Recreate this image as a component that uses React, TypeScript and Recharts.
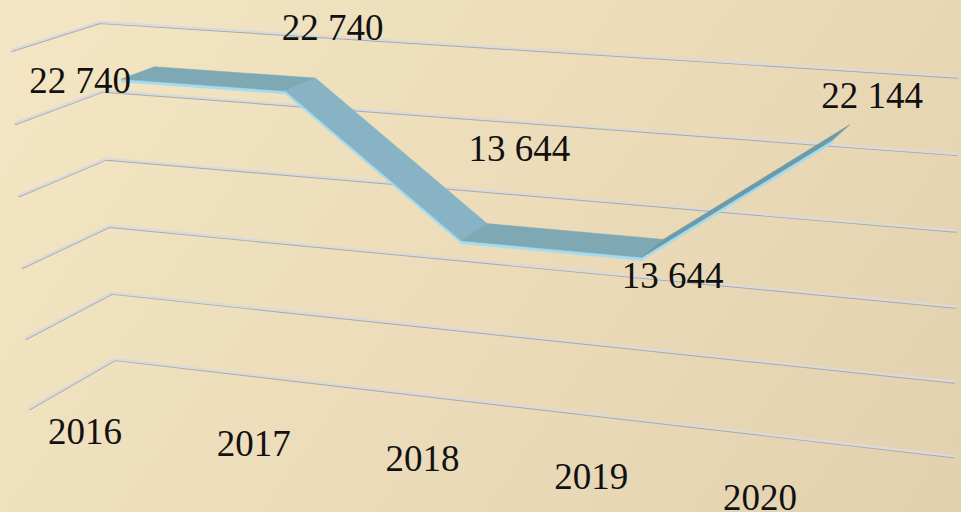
import React from 'react';
import { LineChart, Line, XAxis, YAxis, CartesianGrid, LabelList } from 'recharts';

// ---------- data ----------
const years = ['2016', '2017', '2018', '2019', '2020'];
const amounts = [22740, 22740, 13644, 13644, 22144];
const amountTicks = [0, 5000, 10000, 15000, 20000, 25000];
const amountMax = 25000;

const data = years.map((year, i) => ({ year, amount: amounts[i] }));

// ---------- layout ----------
const W = 961;
const H = 512;
const XAXIS_H = 2;
const PLOT = { left: 0, top: 0, width: W, height: H - XAXIS_H };
const CAT_PAD = PLOT.width / (2 * years.length); // categories sit in band centres

const FONT = "'Liberation Serif', 'Times New Roman', Times, serif";
const FONT_SIZE = 37;

// perspective camera for the 3D box (X: categories 0..1, Y: value 0..1, Z: depth 0 back .. 1 front)
function project(X: number, Y: number, Z: number): [number, number] {
  const w = 1 - 0.1152 * X - 0.02187 * Y - 0.0603 * Z;
  const u = (115 + 728.4 * X - 17.19 * Y - 86.8 * Z) / w;
  const v = (359 + 44.58 * X - 337.5 * Y + 24.36 * Z) / w;
  return [u, v];
}

const toNorm = (x: number, y: number): [number, number] => [
  (x - PLOT.left) / PLOT.width,
  (PLOT.top + PLOT.height - y) / PLOT.height,
];

const pts = (list: [number, number][]) => list.map((p) => `${p[0].toFixed(2)},${p[1].toFixed(2)}`).join(' ');

const RIBBON_BACK = 0.29;
const RIBBON_FRONT = 0.69;
const RIBBON_MID = (RIBBON_BACK + RIBBON_FRONT) / 2;
const RIBBON_THICK = 0.008;

const COLOR_FLAT = '#7da8b4';
const COLOR_DOWN = '#87b3c5';
const COLOR_UP = '#6e9aa8';
const COLOR_EDGE = '#a3dcee';

// value label offsets relative to the projected point (screen px)
const LABEL_SHIFT: [number, number][] = [
  [-58, 8],
  [32, -57],
  [45, -84],
  [20, 27],
  [31, -37],
];

// category label placement along the front
const YEAR_LABEL = { x0: 85, dx: 168.75, y0: 431.7, a: 10.3, b: 1.51 };

const fmt = (v: number) => String(v).replace(/\B(?=(\d{3})+(?!\d))/g, ' ');

// ---------- renderers ----------
const renderGridLine = (props: any) => {
  const [, ny] = toNorm(0, props.y1);
  const line = pts([project(0, ny, 1), project(0, ny, 0), project(1, ny, 0)]);
  return (
    <g key={`grid-${props.index}`}>
      <polyline
        points={line}
        transform="translate(0,1)"
        fill="none"
        stroke="#a9a9a9"
        strokeWidth={2.2}
        strokeLinejoin="round"
        strokeLinecap="round"
      />
      <polyline points={line} fill="none" stroke="#dadada" strokeWidth={2.3} strokeLinejoin="round" strokeLinecap="round" />
    </g>
  );
};

const renderRibbon = (props: any) => {
  const { index, cx, cy, points } = props;
  const n = amounts.length;
  if (index == null || index >= n - 1) return <g key={`rib-${index}`} />;
  let nx: number;
  let ny: number;
  if (points && points[index + 1]) {
    nx = points[index + 1].x;
    ny = points[index + 1].y;
  } else {
    nx = PLOT.left + ((index + 1.5) / n) * PLOT.width;
    ny = PLOT.top + PLOT.height * (1 - amounts[index + 1] / amountMax);
  }
  const [x0, y0] = toNorm(cx, cy);
  const [x1, y1] = toNorm(nx, ny);
  const d = y1 - y0;
  const color = Math.abs(d) < 0.01 ? COLOR_FLAT : d < 0 ? COLOR_DOWN : COLOR_UP;
  const top = pts([
    project(x0, y0, RIBBON_BACK),
    project(x1, y1, RIBBON_BACK),
    project(x1, y1, RIBBON_FRONT),
    project(x0, y0, RIBBON_FRONT),
  ]);
  const front = pts([
    project(x0, y0, RIBBON_FRONT),
    project(x1, y1, RIBBON_FRONT),
    project(x1, y1 - RIBBON_THICK, RIBBON_FRONT),
    project(x0, y0 - RIBBON_THICK, RIBBON_FRONT),
  ]);
  return (
    <g key={`rib-${index}`}>
      <polygon points={front} fill={COLOR_EDGE} stroke={COLOR_EDGE} strokeWidth={0.6} />
      <polygon points={top} fill={color} stroke={color} strokeWidth={0.6} strokeLinejoin="round" />
    </g>
  );
};

const renderValueLabel = (props: any) => {
  const x = props.x ?? props.viewBox?.x;
  const y = props.y ?? props.viewBox?.y;
  const index = props.index ?? 0;
  if (x == null || y == null) return null;
  const [nx, ny] = toNorm(x, y);
  const [sx, sy] = project(nx, ny, RIBBON_MID);
  const sh = LABEL_SHIFT[index] || [0, -30];
  return (
    <text
      key={`lbl-${index}`}
      x={sx + sh[0]}
      y={sy + sh[1]}
      textAnchor="middle"
      dominantBaseline="central"
      fontFamily={FONT}
      fontSize={FONT_SIZE}
      fill="#111"
    >
      {fmt(Number(props.value))}
    </text>
  );
};

const renderYearTick = (props: any) => {
  const { x, payload } = props;
  const [nx] = toNorm(x, 0);
  const i = nx * years.length - 0.5;
  const sx = YEAR_LABEL.x0 + i * YEAR_LABEL.dx;
  const sy = YEAR_LABEL.y0 + YEAR_LABEL.a * i + YEAR_LABEL.b * i * i;
  return (
    <text
      x={sx}
      y={sy}
      textAnchor="middle"
      dominantBaseline="central"
      fontFamily={FONT}
      fontSize={FONT_SIZE}
      fill="#111"
    >
      {payload.value}
    </text>
  );
};

export default function App() {
  return (
    <div
      style={{
        position: 'absolute',
        left: 0,
        top: 0,
        width: W,
        height: H,
        overflow: 'hidden',
        background: 'linear-gradient(125deg, #f4e6c4 0%, #ecdcb9 50%, #e2d1af 100%)',
      }}
    >
      <LineChart width={W} height={H} data={data} margin={{ top: 0, right: 0, bottom: 0, left: 0 }}>
        <CartesianGrid horizontal={renderGridLine} vertical={false} />
        <XAxis
          dataKey="year"
          height={XAXIS_H}
          axisLine={false}
          tickLine={false}
          interval={0}
          padding={{ left: CAT_PAD, right: CAT_PAD }}
          tick={renderYearTick}
        />
        <YAxis hide domain={[0, amountMax]} ticks={amountTicks} type="number" />
        <Line
          dataKey="amount"
          stroke="none"
          dot={renderRibbon}
          activeDot={false}
          isAnimationActive={false}
        >
          <LabelList dataKey="amount" content={renderValueLabel} />
        </Line>
      </LineChart>
    </div>
  );
}
